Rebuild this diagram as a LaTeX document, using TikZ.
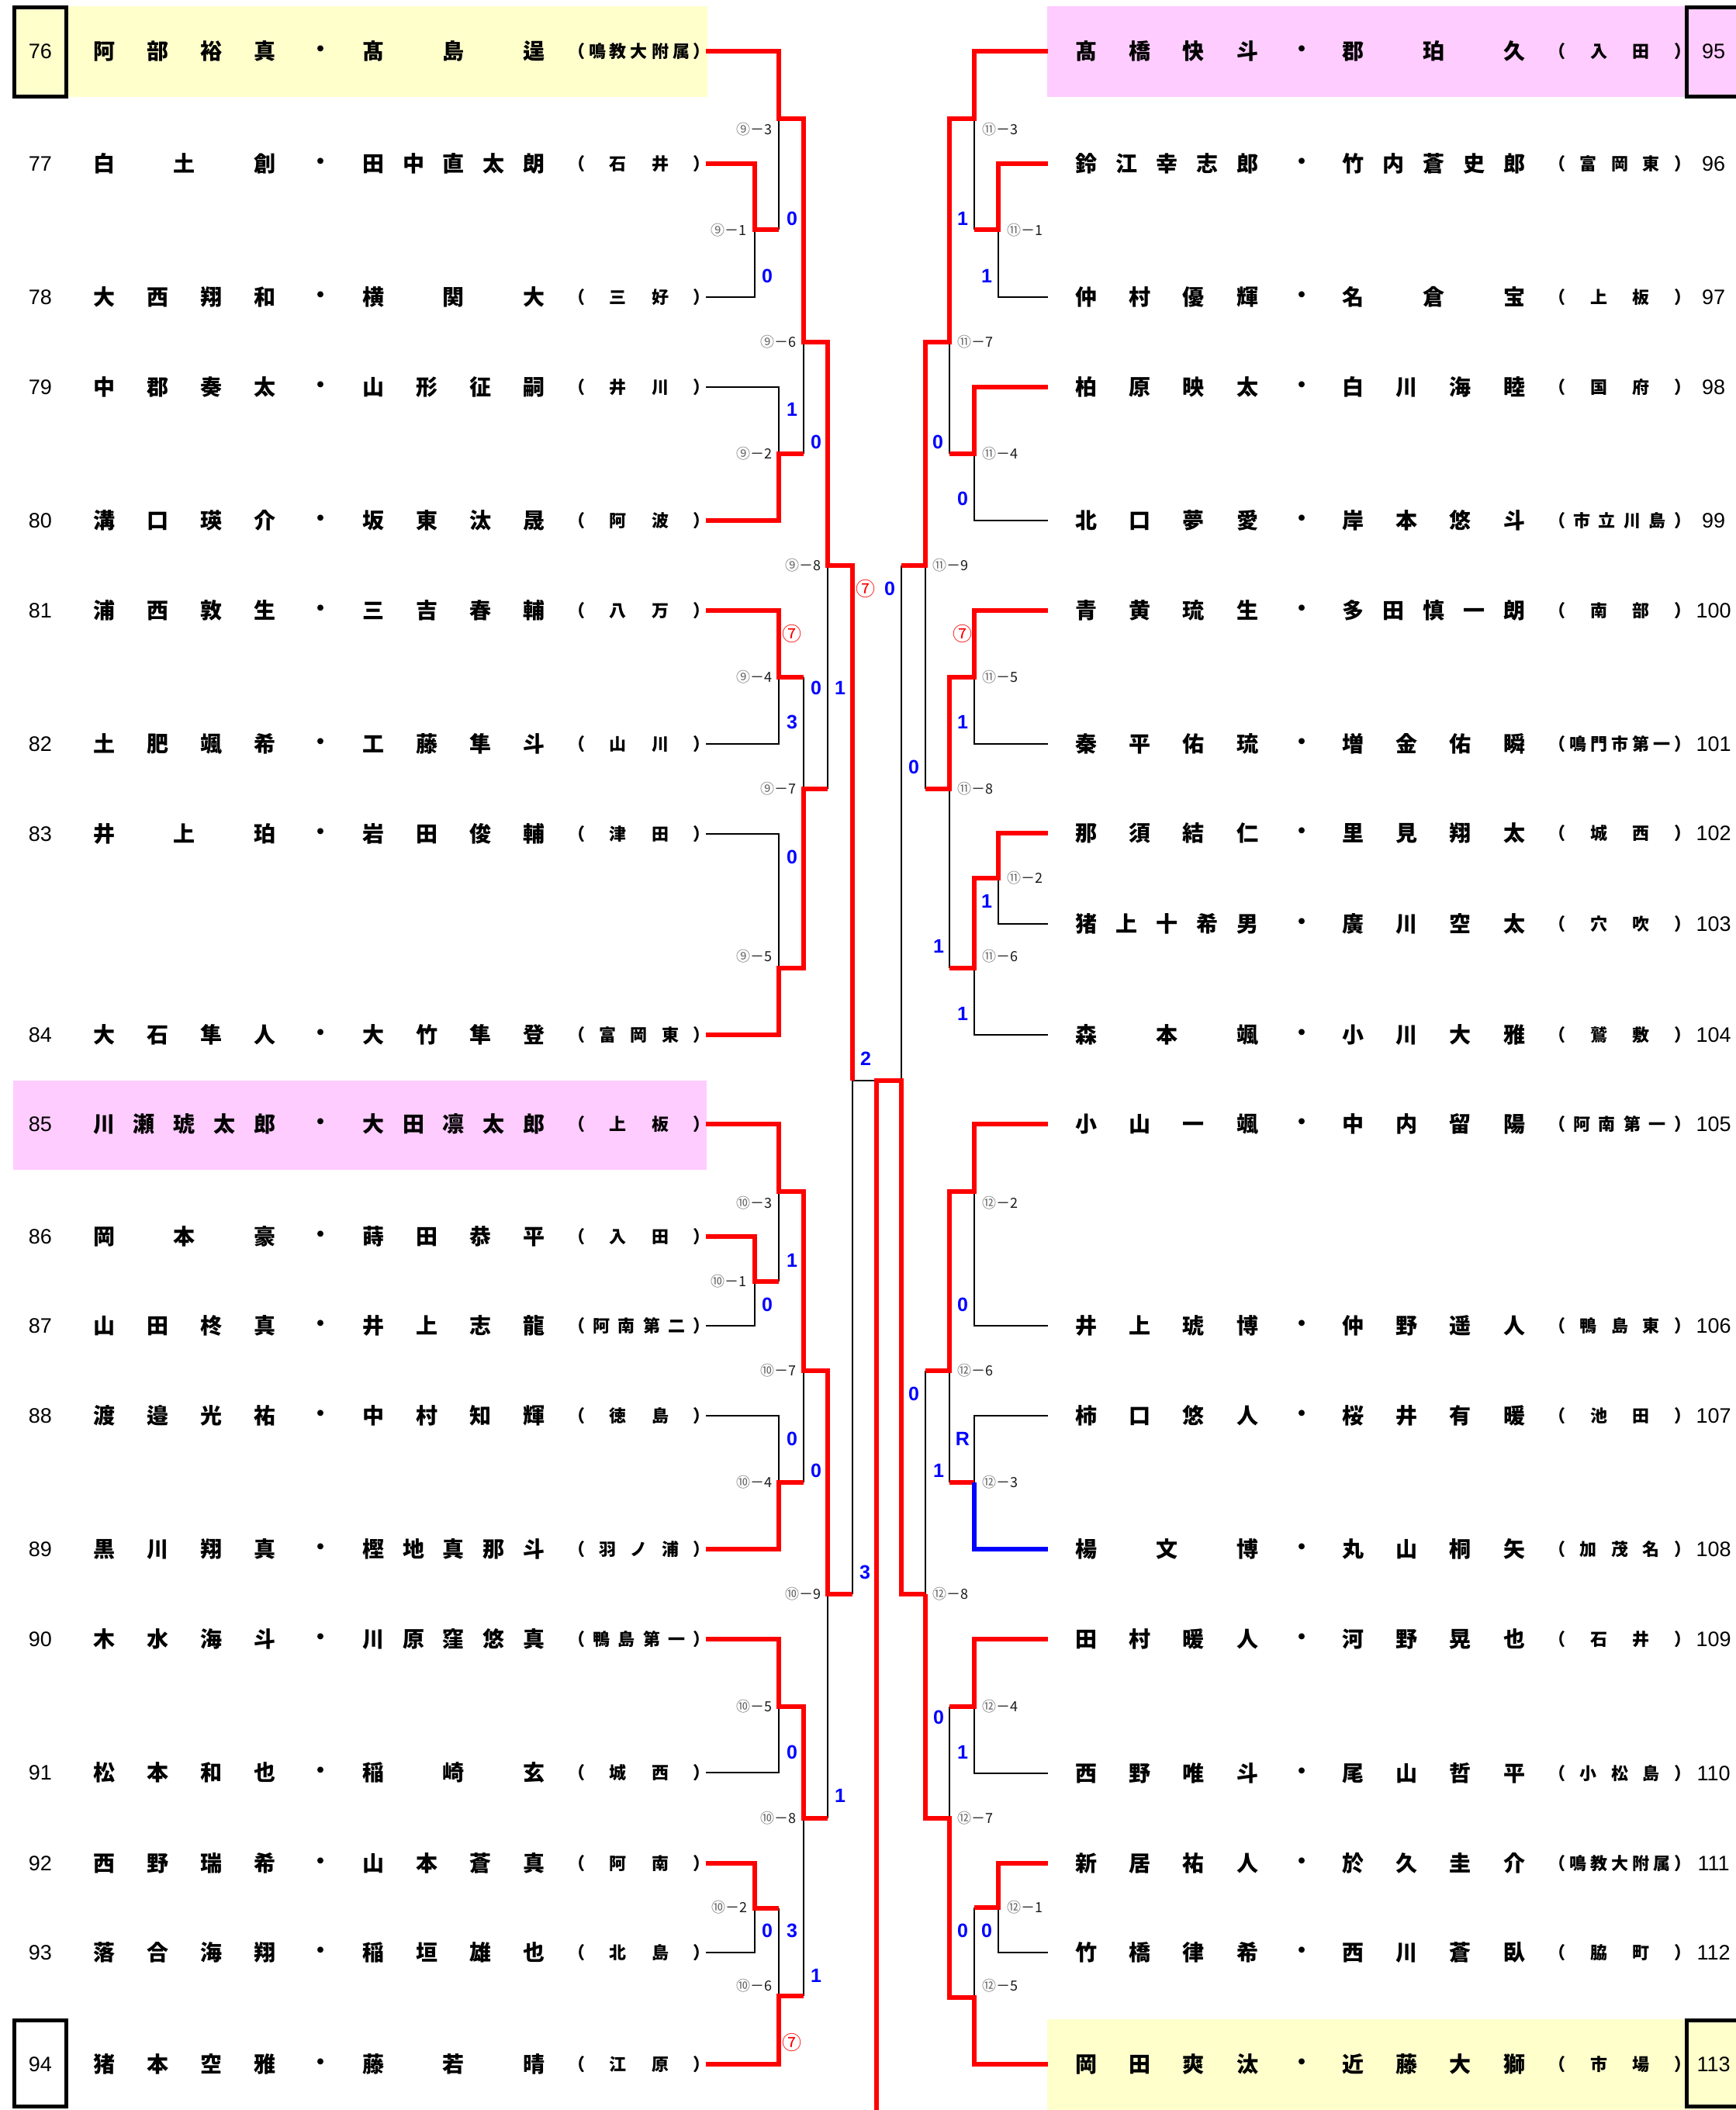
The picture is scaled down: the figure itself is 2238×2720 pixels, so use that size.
\documentclass[tikz,border=0pt]{standalone}
\usepackage{fontspec}
\newfontfamily\jp{Noto Sans CJK JP}
\newfontfamily\numf{Liberation Sans}
\definecolor{rowyel}{HTML}{FFFFCC}
\definecolor{rowpink}{HTML}{FFCCFF}
\def\sprEnd{\sprEnd}
\def\spr#1{\sprA#1\sprEnd}
\def\sprA#1#2\sprEnd{#1\ifx\sprEnd#2\sprEnd\else\hfill\sprA#2\sprEnd\fi}
\tikzset{
  nmt/.style={inner sep=0pt, font=\jp\bfseries\fontsize{28}{28}\selectfont},
  aft/.style={inner sep=0pt, font=\jp\bfseries\fontsize{22}{22}\selectfont},
  numt/.style={inner sep=0pt, font=\numf\fontsize{27}{27}\selectfont},
  mlab/.style={inner sep=0pt, font=\jp\fontsize{18}{18}\selectfont, text=black!90},
  sc/.style={inner sep=0pt, font=\numf\bfseries\fontsize{25}{25}\selectfont, text=blue},
  scr/.style={inner sep=0pt, font=\jp\fontsize{25}{25}\selectfont, text=red},
  rl/.style={draw=red, line width=5.5pt, line join=miter},
  bl/.style={draw=black, line width=2.8pt},
  bul/.style={draw=blue, line width=5.5pt, line join=miter},
  nbox/.style={draw=black, line width=5pt},
}
\newcommand\lrow[5]{%
  \node[numt] (num#1) at (52,#2) {#1};
  \node[nmt] (a#1) at (238,#2) {\hbox to 236pt{\spr{#3}}};
  \node[nmt] (d#1) at (413,#2) {・};
  \node[nmt] (b#1) at (585,#2) {\hbox to 236pt{\spr{#4}}};
  \node[aft] (c#1) at (824,#2) {\hbox to 184pt{\spr{（#5）}}};
}
\newcommand\rrow[5]{%
  \node[numt] (num#1) at (2209,#2) {#1};
  \node[nmt] (a#1) at (1504,#2) {\hbox to 236pt{\spr{#3}}};
  \node[nmt] (d#1) at (1678,#2) {・};
  \node[nmt] (b#1) at (1848,#2) {\hbox to 236pt{\spr{#4}}};
  \node[aft] (c#1) at (2088,#2) {\hbox to 184pt{\spr{（#5）}}};
}
\newcommand\cn[1]{{\color{black!60}#1}}
\begin{document}
\begin{tikzpicture}[x=1pt,y=-1pt]
\useasboundingbox (0,0) rectangle (2238,2720);
\clip (0,0) rectangle (2238,2720);
% row backgrounds
\fill[rowyel] (17,8) rectangle (912,125);
\fill[rowpink] (17,1393) rectangle (911,1508);
\fill[rowpink] (1350,8) rectangle (2238,125);
\fill[rowyel] (1350,2603) rectangle (2238,2720);
\draw[nbox] (18.5,9.5) rectangle (85.5,124.5);
\draw[nbox] (18.5,2604.5) rectangle (85.5,2715.5);
\draw[nbox] (2174.5,9.5) rectangle (2260,124.5);
\draw[nbox] (2174.5,2604.5) rectangle (2260,2715.5);
% ---------- black lines ----------
% block 9
\draw[bl] (910,383)--(973,383)--(973,296);
\draw[bl] (1004,153)--(1004,296);
\draw[bl] (910,499)--(1004,499)--(1004,585);
\draw[bl] (1036,441)--(1036,585);
\draw[bl] (1067,729)--(1067,1017);
\draw[bl] (910,959)--(1004,959)--(1004,873);
\draw[bl] (1036,873)--(1036,1017);
\draw[bl] (910,1075)--(1004,1075)--(1004,1248);
% block 10
\draw[bl] (910,1709)--(973,1709)--(973,1652);
\draw[bl] (1004,1536)--(1004,1652);
\draw[bl] (1036,1767)--(1036,1911);
\draw[bl] (910,1825)--(1004,1825)--(1004,1911);
\draw[bl] (1099,2055)--(1099,1393)--(1130,1393);
\draw[bl] (1067,2055)--(1067,2344);
\draw[bl] (910,2285)--(1004,2285)--(1004,2200);
\draw[bl] (1036,2344)--(1036,2573);
\draw[bl] (910,2517)--(973,2517)--(973,2460);
\draw[bl] (1004,2460)--(1004,2573);
% center right
\draw[bl] (1162,729)--(1162,1393);
% block 11
\draw[bl] (1351,383)--(1287,383)--(1287,296);
\draw[bl] (1256,153)--(1256,296);
\draw[bl] (1351,671)--(1256,671)--(1256,585);
\draw[bl] (1224,441)--(1224,585);
\draw[bl] (1193,729)--(1193,1017);
\draw[bl] (1256,873)--(1256,959)--(1351,959);
\draw[bl] (1224,1017)--(1224,1248);
\draw[bl] (1287,1132)--(1287,1191)--(1351,1191);
\draw[bl] (1256,1248)--(1256,1334)--(1351,1334);
% block 12
\draw[bl] (1256,1536)--(1256,1709)--(1351,1709);
\draw[bl] (1193,1767)--(1193,2055);
\draw[bl] (1224,1767)--(1224,1911);
\draw[bl] (1256,1911)--(1256,1825)--(1351,1825);
\draw[bl] (1256,2200)--(1256,2286)--(1351,2286);
\draw[bl] (1224,2200)--(1224,2344);
\draw[bl] (1287,2459)--(1287,2517)--(1351,2517);
\draw[bl] (1256,2459)--(1256,2575);
% ---------- red lines ----------
\draw[rl] (910,66)--(1004,66)--(1004,153)--(1036,153)--(1036,441)--(1067,441)--(1067,729)--(1099,729)--(1099,1393);
\draw[rl] (910,211)--(973,211)--(973,296)--(1004,296);
\draw[rl] (910,671)--(1004,671)--(1004,585)--(1036,585);
\draw[rl] (910,787)--(1004,787)--(1004,873)--(1036,873);
\draw[rl] (1067,1017)--(1036,1017)--(1036,1248)--(1004,1248)--(1004,1334)--(910,1334);
\draw[rl] (910,1449)--(1004,1449)--(1004,1536)--(1036,1536)--(1036,1767)--(1067,1767)--(1067,2055)--(1099,2055);
\draw[rl] (910,1594)--(973,1594)--(973,1652)--(1004,1652);
\draw[rl] (910,1997)--(1004,1997)--(1004,1911)--(1036,1911);
\draw[rl] (910,2113)--(1004,2113)--(1004,2200)--(1036,2200)--(1036,2344)--(1067,2344);
\draw[rl] (910,2402)--(973,2402)--(973,2460)--(1004,2460);
\draw[rl] (910,2661)--(1004,2661)--(1004,2573)--(1036,2573);
\draw[rl] (1130,2730)--(1130,1393)--(1162,1393)--(1162,2055)--(1193,2055);
\draw[rl] (1351,66)--(1256,66)--(1256,153)--(1224,153)--(1224,441)--(1193,441)--(1193,729)--(1162,729);
\draw[rl] (1351,211)--(1287,211)--(1287,296)--(1256,296);
\draw[rl] (1351,499)--(1256,499)--(1256,585)--(1224,585);
\draw[rl] (1193,1017)--(1224,1017)--(1224,873)--(1256,873)--(1256,787)--(1351,787);
\draw[rl] (1224,1248)--(1256,1248)--(1256,1132)--(1287,1132)--(1287,1074)--(1351,1074);
\draw[rl] (1351,1449)--(1256,1449)--(1256,1536)--(1224,1536)--(1224,1767)--(1193,1767);
\draw[rl] (1224,1911)--(1256,1911);
\draw[rl] (1193,2055)--(1193,2344)--(1224,2344)--(1224,2575)--(1256,2575)--(1256,2661)--(1351,2661);
\draw[rl] (1351,2113)--(1256,2113)--(1256,2200)--(1224,2200);
\draw[rl] (1351,2402)--(1287,2402)--(1287,2459)--(1256,2459);
\draw[bul] (1256,1911)--(1256,1997)--(1351,1997);
% ---------- rows ----------
\lrow{76}{66}{阿部裕真}{髙島逞}{鳴教大附属}
\lrow{77}{211}{白土創}{田中直太朗}{石井}
\lrow{78}{383}{大西翔和}{横関大}{三好}
\lrow{79}{499}{中郡奏太}{山形征嗣}{井川}
\lrow{80}{671}{溝口瑛介}{坂東汰晟}{阿波}
\lrow{81}{787}{浦西敦生}{三吉春輔}{八万}
\lrow{82}{959}{土肥颯希}{工藤隼斗}{山川}
\lrow{83}{1075}{井上珀}{岩田俊輔}{津田}
\lrow{84}{1334}{大石隼人}{大竹隼登}{富岡東}
\lrow{85}{1449}{川瀬琥太郎}{大田凛太郎}{上板}
\lrow{86}{1594}{岡本豪}{蒔田恭平}{入田}
\lrow{87}{1709}{山田柊真}{井上志龍}{阿南第二}
\lrow{88}{1825}{渡邉光祐}{中村知輝}{徳島}
\lrow{89}{1997}{黒川翔真}{樫地真那斗}{羽ノ浦}
\lrow{90}{2113}{木水海斗}{川原窪悠真}{鴨島第一}
\lrow{91}{2285}{松本和也}{稲崎玄}{城西}
\lrow{92}{2402}{西野瑞希}{山本蒼真}{阿南}
\lrow{93}{2517}{落合海翔}{稲垣雄也}{北島}
\lrow{94}{2661}{猪本空雅}{藤若晴}{江原}
\rrow{95}{66}{髙橋快斗}{郡珀久}{入田}
\rrow{96}{211}{鈴江幸志郎}{竹内蒼史郎}{富岡東}
\rrow{97}{383}{仲村優輝}{名倉宝}{上板}
\rrow{98}{499}{柏原映太}{白川海睦}{国府}
\rrow{99}{671}{北口夢愛}{岸本悠斗}{市立川島}
\rrow{100}{787}{青黄琉生}{多田慎一朗}{南部}
\rrow{101}{959}{秦平佑琉}{増金佑瞬}{鳴門市第一}
\rrow{102}{1074}{那須結仁}{里見翔太}{城西}
\rrow{103}{1191}{猪上十希男}{廣川空太}{穴吹}
\rrow{104}{1334}{森本颯}{小川大雅}{鷲敷}
\rrow{105}{1449}{小山一颯}{中内留陽}{阿南第一}
\rrow{106}{1709}{井上琥博}{仲野遥人}{鴨島東}
\rrow{107}{1825}{柿口悠人}{桜井有暖}{池田}
\rrow{108}{1997}{楊文博}{丸山桐矢}{加茂名}
\rrow{109}{2113}{田村暖人}{河野晃也}{石井}
\rrow{110}{2286}{西野唯斗}{尾山哲平}{小松島}
\rrow{111}{2402}{新居祐人}{於久圭介}{鳴教大附属}
\rrow{112}{2517}{竹橋律希}{西川蒼臥}{脇町}
\rrow{113}{2661}{岡田爽汰}{近藤大獅}{市場}
% ---------- match labels ----------
\node[mlab, anchor=east] (m9a) at (996,167) {\cn{⑨}－3};
\node[mlab, anchor=east] (m9b) at (963,297) {\cn{⑨}－1};
\node[mlab, anchor=east] (m9c) at (1027,441) {\cn{⑨}－6};
\node[mlab, anchor=east] (m9d) at (996,585) {\cn{⑨}－2};
\node[mlab, anchor=east] (m9e) at (1059,729) {\cn{⑨}－8};
\node[mlab, anchor=east] (m9f) at (996,873) {\cn{⑨}－4};
\node[mlab, anchor=east] (m9g) at (1027,1017) {\cn{⑨}－7};
\node[mlab, anchor=east] (m9h) at (996,1233) {\cn{⑨}－5};
\node[mlab, anchor=east] (m10a) at (996,1551) {\cn{⑩}－3};
\node[mlab, anchor=east] (m10b) at (963,1652) {\cn{⑩}－1};
\node[mlab, anchor=east] (m10c) at (1027,1767) {\cn{⑩}－7};
\node[mlab, anchor=east] (m10d) at (996,1911) {\cn{⑩}－4};
\node[mlab, anchor=east] (m10e) at (1059,2055) {\cn{⑩}－9};
\node[mlab, anchor=east] (m10f) at (996,2200) {\cn{⑩}－5};
\node[mlab, anchor=east] (m10g) at (1027,2344) {\cn{⑩}－8};
\node[mlab, anchor=east] (m10h) at (964,2459) {\cn{⑩}－2};
\node[mlab, anchor=east] (m10i) at (996,2560) {\cn{⑩}－6};
\node[mlab, anchor=west] (m11a) at (1266,167) {\cn{⑪}－3};
\node[mlab, anchor=west] (m11b) at (1298,297) {\cn{⑪}－1};
\node[mlab, anchor=west] (m11c) at (1234,441) {\cn{⑪}－7};
\node[mlab, anchor=west] (m11d) at (1266,585) {\cn{⑪}－4};
\node[mlab, anchor=west] (m11e) at (1202,729) {\cn{⑪}－9};
\node[mlab, anchor=west] (m11f) at (1266,873) {\cn{⑪}－5};
\node[mlab, anchor=west] (m11g) at (1234,1017) {\cn{⑪}－8};
\node[mlab, anchor=west] (m11h) at (1298,1132) {\cn{⑪}－2};
\node[mlab, anchor=west] (m11i) at (1266,1233) {\cn{⑪}－6};
\node[mlab, anchor=west] (m12a) at (1266,1551) {\cn{⑫}－2};
\node[mlab, anchor=west] (m12b) at (1234,1767) {\cn{⑫}－6};
\node[mlab, anchor=west] (m12c) at (1266,1911) {\cn{⑫}－3};
\node[mlab, anchor=west] (m12d) at (1202,2055) {\cn{⑫}－8};
\node[mlab, anchor=west] (m12e) at (1266,2200) {\cn{⑫}－4};
\node[mlab, anchor=west] (m12f) at (1234,2344) {\cn{⑫}－7};
\node[mlab, anchor=west] (m12g) at (1298,2459) {\cn{⑫}－1};
\node[mlab, anchor=west] (m12h) at (1266,2560) {\cn{⑫}－5};
% ---------- scores ----------
\node[sc] (s1) at (1021,282) {0};
\node[sc] (s2) at (989,356) {0};
\node[sc] (s3) at (1021,528) {1};
\node[sc] (s4) at (1052,570) {0};
\node[scr] (s5) at (1116,759) {⑦};
\node[sc] (s6) at (1147,759) {0};
\node[scr] (s7) at (1021,817) {⑦};
\node[sc] (s8) at (1052,887) {0};
\node[sc] (s9) at (1083,887) {1};
\node[sc] (s10) at (1021,931) {3};
\node[sc] (s11) at (1021,1105) {0};
\node[sc] (s12) at (1116,1365) {2};
\node[sc] (s13) at (1021,1625) {1};
\node[sc] (s14) at (989,1682) {0};
\node[sc] (s15) at (1021,1855) {0};
\node[sc] (s16) at (1052,1896) {0};
\node[sc] (s17) at (1115,2027) {3};
\node[sc] (s18) at (1021,2259) {0};
\node[sc] (s19) at (1083,2315) {1};
\node[sc] (s20) at (989,2489) {0};
\node[sc] (s21) at (1021,2489) {3};
\node[sc] (s22) at (1052,2547) {1};
\node[scr] (s23) at (1021,2633) {⑦};
\node[sc] (t1) at (1241,282) {1};
\node[sc] (t2) at (1272,356) {1};
\node[sc] (t3) at (1209,570) {0};
\node[sc] (t4) at (1241,643) {0};
\node[sc] (t5) at (1178,989) {0};
\node[scr] (t6) at (1241,817) {⑦};
\node[sc] (t7) at (1241,931) {1};
\node[sc] (t8) at (1272,1162) {1};
\node[sc] (t9) at (1210,1220) {1};
\node[sc] (t10) at (1241,1307) {1};
\node[sc] (t11) at (1241,1682) {0};
\node[sc] (t12) at (1178,1797) {0};
\node[sc] (t13) at (1241,1855) {R};
\node[sc] (t14) at (1210,1896) {1};
\node[sc] (t15) at (1210,2214) {0};
\node[sc] (t16) at (1241,2259) {1};
\node[sc] (t17) at (1241,2489) {0};
\node[sc] (t18) at (1272,2489) {0};
\end{tikzpicture}
\end{document}
